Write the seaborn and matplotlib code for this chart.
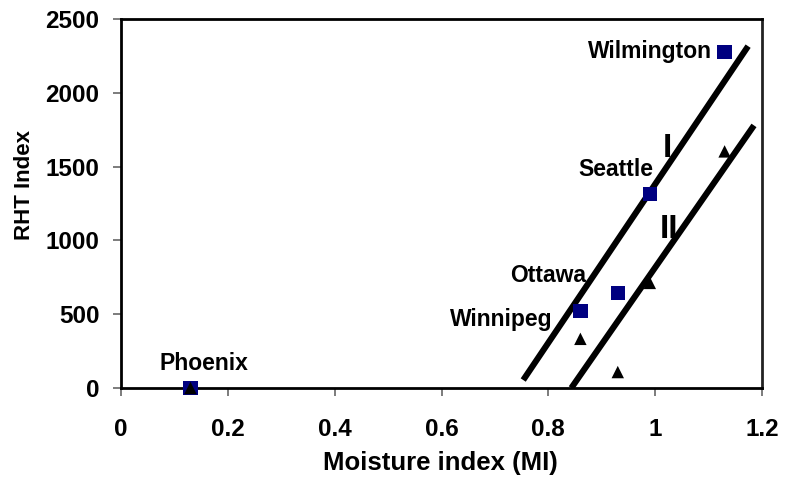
import matplotlib
matplotlib.use("Agg")
import matplotlib.pyplot as plt
import seaborn as sns
import pandas as pd

# Data
cities = ["Phoenix", "Winnipeg", "Ottawa", "Seattle", "Wilmington"]
mi_values = [0.13, 0.86, 0.93, 0.99, 1.13]
rht_squares = [0, 520, 645, 1315, 2275]
rht_triangles = [0, 333, 108, 712, 1603]

line_I_x = [0.753, 1.174]
line_I_y = [54, 2316]
line_II_x = [0.843, 1.185]
line_II_y = [0, 1779]

x_ticks = [0, 0.2, 0.4, 0.6, 0.8, 1.0, 1.2]
x_tick_labels = ["0", "0.2", "0.4", "0.6", "0.8", "1", "1.2"]
y_ticks = [0, 500, 1000, 1500, 2000, 2500]

sns.set_theme(style="ticks")
plt.rcParams['font.family'] = ['Liberation Sans', 'DejaVu Sans']
plt.rcParams['text.color'] = 'black'
plt.rcParams['axes.labelcolor'] = 'black'
plt.rcParams['xtick.color'] = '#666666'
plt.rcParams['ytick.color'] = '#666666'
plt.rcParams['xtick.labelcolor'] = 'black'
plt.rcParams['ytick.labelcolor'] = 'black'

fig = plt.figure(figsize=(7.86, 4.82), dpi=100)
ax = fig.add_axes([121 / 786, 1 - 388 / 482, 641 / 786, 369 / 482])

df_sq = pd.DataFrame({"MI": mi_values, "RHT": rht_squares})
df_tr = pd.DataFrame({"MI": mi_values, "RHT": rht_triangles})

sns.lineplot(x=line_I_x, y=line_I_y, ax=ax, color="black", linewidth=4.4,
             solid_capstyle="butt", zorder=2)
sns.lineplot(x=line_II_x, y=line_II_y, ax=ax, color="black", linewidth=4.4,
             solid_capstyle="butt", zorder=2)

sns.scatterplot(data=df_sq, x="MI", y="RHT", marker="s", s=106, color="#000080",
                edgecolor="none", linewidth=0, ax=ax, zorder=3, clip_on=False)
sns.scatterplot(data=df_tr, x="MI", y="RHT", marker="^", s=80, color="black",
                edgecolor="none", linewidth=0, ax=ax, zorder=4, clip_on=False)

# City labels (x, y, ha) placed by baseline
label_pos = {
    "Phoenix": (0.073, 120, "left"),
    "Winnipeg": (0.8075, 421, "right"),
    "Ottawa": (0.871, 715, "right"),
    "Seattle": (0.996, 1433, "right"),
    "Wilmington": (1.1065, 2238, "right"),
}
for c in cities:
    x, y, ha = label_pos[c]
    ax.text(x, y, c, ha=ha, va="baseline", fontsize=16.5, fontweight="bold", color="black")

ax.text(1.0224, 1562, "I", ha="center", va="baseline", fontsize=24, fontweight="bold")
ax.text(1.026, 1018, "II", ha="center", va="baseline", fontsize=24, fontweight="bold")

ax.set_xlim(0, 1.2)
ax.set_ylim(0, 2500)
ax.set_xticks(x_ticks)
ax.set_xticklabels(x_tick_labels)
ax.set_yticks(y_ticks)
ax.tick_params(axis="both", labelsize=17.5, length=5.5, width=1.2, direction="out")
for lab in ax.get_xticklabels() + ax.get_yticklabels():
    lab.set_fontweight("bold")
ax.tick_params(axis="x", pad=16)
ax.tick_params(axis="y", pad=10)

ax.set_xlabel("Moisture index (MI)", fontsize=18.5, fontweight="bold")
ax.set_ylabel("RHT Index", fontsize=16, fontweight="bold")
ax.xaxis.set_label_coords(0.498, -0.172)
ax.yaxis.set_label_coords(-0.134, 0.549)

for sp in ax.spines.values():
    sp.set_visible(True)
    sp.set_color("black")
    sp.set_linewidth(2)
ax.spines["right"].set_color("#222222")

fig.savefig("out.png", dpi=100)
